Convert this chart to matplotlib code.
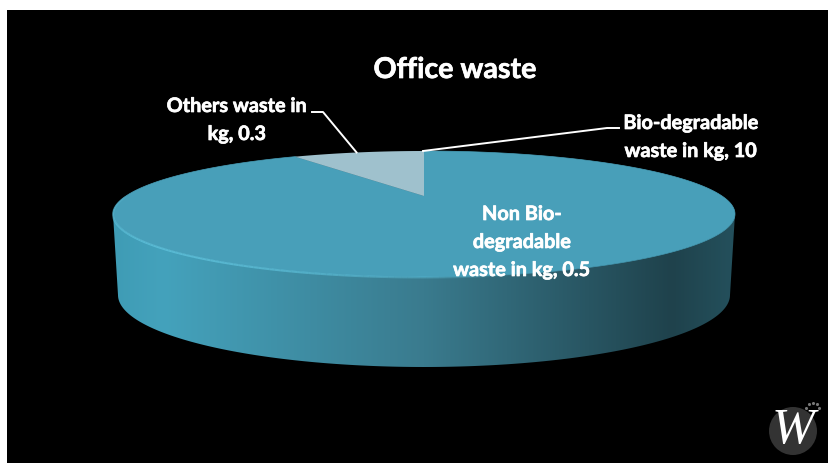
import numpy as np
import matplotlib
matplotlib.use("Agg")
import matplotlib.pyplot as plt
import matplotlib.patheffects as pe
from matplotlib.collections import LineCollection
from matplotlib.colors import LinearSegmentedColormap
from matplotlib.patches import Circle, Polygon, Rectangle

plt.rcParams["font.family"] = ["Lato", "DejaVu Sans"]

title = "Office waste"
categories = ["Bio-degradable\nwaste in kg", "Non Bio-\ndegradable\nwaste in kg", "Others waste in\nkg"]
label_values = [10, 0.5, 0.3]
# the slices as they look in the picture, clockwise from 12 o'clock (degrees)
main_slice_deg = 327.5
others_slice_deg = 32.5

top_color = "#489fb9"
others_color = "#9fc1cd"
rim_color = "#62c6e0"
side_stops = [(0.0, "#3f9cb5"), (0.08, "#44a2bc"), (0.5, "#3a7b8e"), (0.9, "#1f424c"), (1.0, "#24505c")]

# pie geometry in pixels, perspective comes from the different top and bottom radii
cx, cy = 424, 197
back_ry, front_ry = 45, 81
max_rx = 311
depth_cy, depth_rx, depth_ry = 296, 306, 72


def project(theta):
    k = (front_ry - back_ry) / (front_ry + back_ry)
    a = back_ry * (1 + k)
    b = max_rx * np.sqrt(1 - k ** 2)
    den = 1 + k * np.sin(theta)
    return cx + b * np.cos(theta) / den, cy - a * np.sin(theta) / den


fig = plt.figure(figsize=(8.29, 4.64), dpi=100, facecolor="white")
ax = fig.add_axes([0, 0, 1, 1])
ax.set_xlim(0, 829)
ax.set_ylim(464, 0)
ax.axis("off")

ax.add_patch(Rectangle((7, 11), 822, 453, facecolor="black", edgecolor="none", zorder=0))

# side wall: lower half of the top rim joined to the lower half of the base
t = np.linspace(np.pi, 2 * np.pi, 200)
rim_x, rim_y = project(np.linspace(np.pi + 0.29, 2 * np.pi - 0.29, 200))
base_x = cx + depth_rx * np.cos(t)
base_y = depth_cy - depth_ry * np.sin(t)
left_x, left_y = project(np.array([np.pi + 0.29]))
right_x, right_y = project(np.array([2 * np.pi - 0.29]))
wall = np.column_stack([
    np.concatenate([left_x, base_x, right_x, rim_x[::-1]]),
    np.concatenate([left_y, base_y, right_y, rim_y[::-1]]),
])
wall_patch = Polygon(wall, closed=True, facecolor="none", edgecolor="none", zorder=1)
ax.add_patch(wall_patch)
side_cmap = LinearSegmentedColormap.from_list("side", side_stops)
shade = ax.imshow(np.linspace(0, 1, 256)[None, :], cmap=side_cmap, aspect="auto",
                  extent=(wall[:, 0].min(), wall[:, 0].max(), 380, 200), zorder=1)
shade.set_clip_path(wall_patch)
ax.set_xlim(0, 829)
ax.set_ylim(464, 0)

# top face, angles measured clockwise from 12 o'clock
start = np.pi / 2
main_t = np.linspace(start, start - np.radians(main_slice_deg), 400)
others_t = np.linspace(start + np.radians(others_slice_deg), start, 60)
mx, my = project(main_t)
ox, oy = project(others_t)
ax.fill(np.r_[cx, mx], np.r_[cy, my], color=top_color, lw=0.5, zorder=2)
ax.fill(np.r_[cx, ox], np.r_[cy, oy], color=others_color, lw=0, zorder=3)

# bright rim on the front left, fading out to the right
arc_t = np.linspace(np.pi * 1.0, np.pi * 1.58, 120)
ax_, ay_ = project(arc_t)
pts = np.column_stack([ax_, ay_ + 0.5]).reshape(-1, 1, 2)
segs = np.concatenate([pts[:-1], pts[1:]], axis=1)
fade = np.sin(np.linspace(0.15, np.pi, len(segs))) ** 0.8 * 0.7
rim_rgba = np.tile(matplotlib.colors.to_rgba(rim_color), (len(segs), 1))
rim_rgba[:, 3] = fade
ax.add_collection(LineCollection(segs, colors=rim_rgba, linewidths=1.5, zorder=4))

# leader lines
bx, by = project(np.array([start]))
ax.plot([bx[0] - 1, 607, 619], [by[0], 129, 129], color="white", lw=1.4, zorder=5, solid_joinstyle="round")
lx, ly = project(np.array([start + np.radians(others_slice_deg / 2)]))
ax.plot([312, 323, lx[0] - 2], [113, 113, ly[0]], color="white", lw=1.4, zorder=5, solid_joinstyle="round")

heavier = [pe.withStroke(linewidth=0.5, foreground="white")]
ax.text(455, 71, title, color="white", fontsize=20.6, fontweight="bold", ha="center", va="center",
        zorder=6, path_effects=heavier)
label_style = dict(color="white", fontsize=14.3, fontweight="bold", ha="center", va="center",
                   linespacing=1.5, zorder=6, path_effects=heavier)
ax.text(691, 138, f"{categories[0]}, {label_values[0]}", **label_style)
ax.text(522, 243, f"{categories[1]}, {label_values[1]}", **label_style)
ax.text(237, 121, f"{categories[2]}, {label_values[2]}", **label_style)

# watermark logo
ax.add_patch(Circle((793, 432), 24, facecolor="#333333", edgecolor="none", zorder=6))
ax.text(793, 431, "W", color="white", fontsize=37, family="Liberation Serif", style="italic",
        ha="center", va="center", zorder=7)
ax.scatter([806, 809, 813, 817, 819], [409, 405, 404, 405, 409], s=5, color="#777777", lw=0, zorder=7)

fig.savefig("out.png", dpi=100, facecolor=fig.get_facecolor())
